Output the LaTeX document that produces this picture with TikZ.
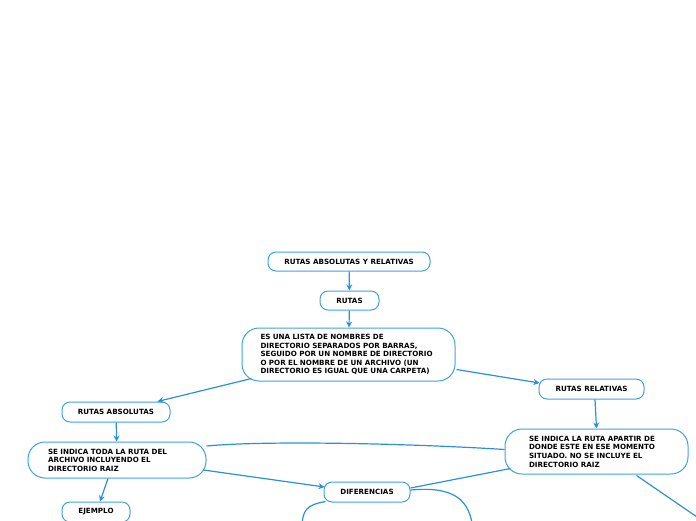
\documentclass[tikz,border=0pt]{standalone}
\usepackage{fontspec}
\setmainfont{DejaVu Sans}
\usetikzlibrary{calc,arrows.meta}
\definecolor{lineblue}{HTML}{2A90DC}
\definecolor{boxblue}{HTML}{3FA2E6}
\tikzset{
  box/.style={draw=boxblue,line width=1pt,rounded corners=8pt,fill=white,
    font=\fontsize{7.15}{8.6}\selectfont\bfseries,inner sep=0pt,align=center},
  bigbox/.style={box,rounded corners=17pt,align=left},
  conn/.style={draw=lineblue,line width=1.2pt},
  arr/.style={conn,-{Stealth[length=6pt,width=6pt]}},
}
\begin{document}
\begin{tikzpicture}[x=1pt,y=-1pt]
\useasboundingbox (0,0) rectangle (696,520);
\clip (0,0) rectangle (696,520);
\node[box,minimum width=162pt,minimum height=19pt] (n1) at (349,261.5) {RUTAS ABSOLUTAS Y RELATIVAS};
\node[box,minimum width=59pt,minimum height=19pt] (n2) at (349.5,300.5) {RUTAS};
\node[bigbox,minimum width=213pt,minimum height=53pt,text width=176pt] (n3) at (348.5,354.5)
  {ES UNA LISTA DE NOMBRES DE\\DIRECTORIO SEPARADOS POR BARRAS,\\SEGUIDO POR UN NOMBRE DE DIRECTORIO\\O POR EL NOMBRE DE UN ARCHIVO (UN\\DIRECTORIO ES IGUAL QUE UNA CARPETA)};
\node[box,minimum width=105pt,minimum height=20pt] (n4) at (591.5,389) {RUTAS RELATIVAS};
\node[box,minimum width=108pt,minimum height=20pt] (n5) at (116,412) {RUTAS ABSOLUTAS};
\node[bigbox,minimum width=178pt,minimum height=36pt,text width=138pt] (n6) at (117,460)
  {SE INDICA TODA LA RUTA DEL\\ARCHIVO INCLUYENDO EL\\DIRECTORIO RAIZ};
\node[bigbox,minimum width=183pt,minimum height=45pt,text width=135pt] (n7) at (596.5,451.5)
  {SE INDICA LA RUTA APARTIR DE\\DONDE ESTE EN ESE MOMENTO\\SITUADO. NO SE INCLUYE EL\\DIRECTORIO RAIZ};
\node[box,minimum width=86pt,minimum height=20pt] (n8) at (367,492) {DIFERENCIAS};
\node[box,minimum width=68pt,minimum height=20pt] (n9) at (96,512) {EJEMPLO};
\coordinate (off7) at (700,519);
\coordinate (offL) at (302,530);
\coordinate (offR) at (473,530);
\draw[arr] (n1) -- (n2);
\draw[arr] (n2) -- (n3);
\draw[arr] ($(n3.south west)+(10,-3)$) -- ($(n5.north east)+(-13,0)$);
\draw[arr] ($(n3.east)+(1,15)$) -- ($(n4.west)+(1,-6)$);
\draw[arr] (n5) -- (n6);
\draw[arr] ($(n4.south)+(3.5,0)$) -- (n7.north);
\draw[arr] ($(n6.south)+(-9,0)$) -- ($(n9.north)+(4,0)$);
\draw[arr] ($(n6.east)+(-3,10)$) -- ($(n8.west)+(1,-5)$);
\draw[conn] ($(n7.south west)+(6,-6)$) -- ($(n8.east)+(0,-4)$);
\draw[conn] ($(n6.east)+(0,-14)$) .. controls (270,440) and (420,444) .. ($(n7.west)+(0,-2)$);
\draw[conn] ($(n7.south)+(40,1)$) -- (off7);
\draw[conn] ($(n8.south west)+(2,-1)$) .. controls (306,505) and (302,510) .. (offL);
\draw[conn] ($(n8.east)+(0,-2)$) .. controls (455,486) and (470,500) .. (offR);
\end{tikzpicture}
\end{document}
